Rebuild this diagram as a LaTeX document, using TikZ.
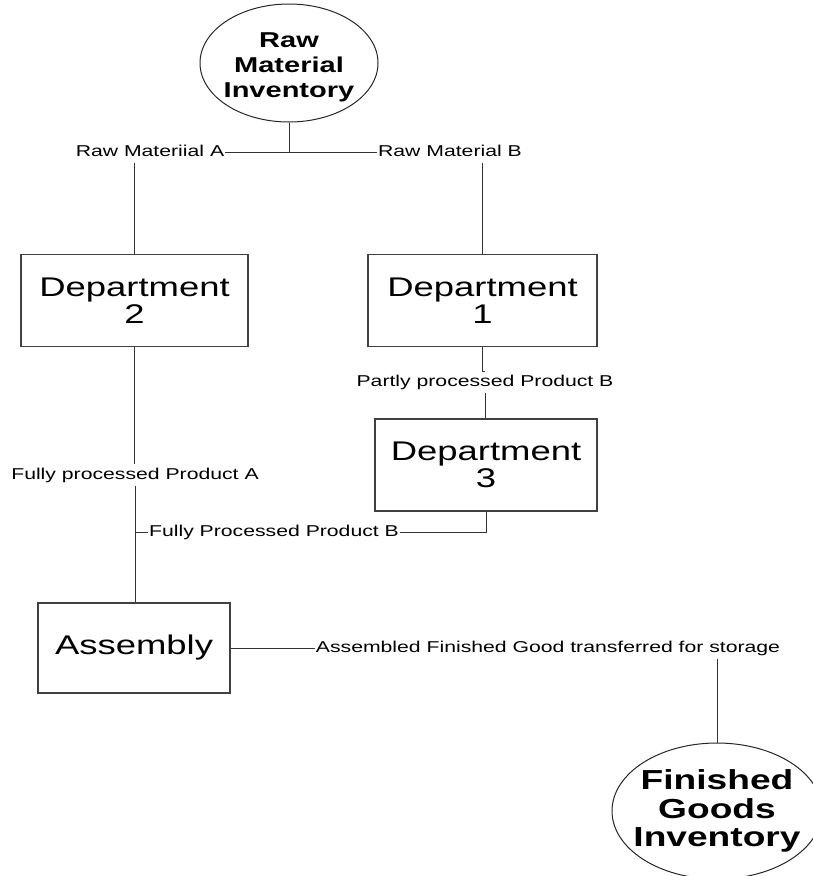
\documentclass[tikz,border=0pt]{standalone}
\usepackage{fontspec}
\setmainfont[FakeStretch=1.35]{Liberation Sans}
\usetikzlibrary{shapes.geometric}
\tikzset{>=stealth,
  dept/.style={draw=black!75, line width=1.2pt, minimum width=#1, minimum height=92pt,
    inner sep=0pt, align=center, font=\fontsize{27}{27}\selectfont},
  dept/.default=228pt,
  inv/.style={ellipse, draw=black!85, line width=1pt, inner sep=0pt},
  invtext/.style={align=center, font=\bfseries\fontsize{21.5}{25}\selectfont},
  bigtext/.style={align=center, font=\bfseries\fontsize{27.5}{28.5}\selectfont},
  flow/.style={inner xsep=1pt, inner ysep=3pt, text height=11.5pt, text depth=3.5pt,
    font=\fontsize{15.7}{18}\selectfont},
  link/.style={draw=black!80, line width=1pt}}

\begin{document}
\begin{tikzpicture}[x=1pt, y=-1pt]
    \useasboundingbox (0,0) rectangle (813,876);
    \node[inv, minimum width=178pt, minimum height=118pt] (rawinv) at (289,63) {};
    \node[invtext] (rawtxt) at (289,67) {Raw\\Material\\Inventory};
    \coordinate (split) at (289,152);
    \node[flow] (rawA) at (150,152) {Raw Materiial A};
    \node[flow] (rawB) at (450,152) {Raw Material B};
    \node[dept=227pt] (dept2) at (134.5,300.5) {Department\\2};
    \node[dept=229pt] (dept1) at (482.5,300.5) {Department\\1};
    \node[flow] (partB) at (485,382) {Partly processed Product B};
    \node[dept=222pt] (dept3) at (486,465) {Department\\3};
    \node[flow] (fullA) at (135,475) {Fully processed Product A};
    \node[flow] (fullB) at (274,532) {Fully Processed Product B};
    \node[dept=192pt, minimum height=90pt] (assembly) at (134,648) {Assembly};
    \node[flow] (stored) at (548,648) {Assembled Finished Good transferred for storage};
    \node[inv, minimum width=210pt, minimum height=136pt] (fgi) at (717,811) {};
    \node[bigtext] (fgitxt) at (717,811) {Finished\\Goods\\Inventory};
    \draw[link] (rawinv.south) -- (split);
    \draw[link] (rawA.east) -- (rawB.west);
    \draw[link] (rawA.south -| dept2.north) -- (dept2.north);
    \draw[link] (rawB.south -| dept1.north) -- (dept1.north);
    \draw[link] (dept1.south) |- (partB.north);
    \draw[link] (partB.south) -- (partB.south |- dept3.north);
    \draw[link] (dept2.south) -- (dept2.south |- fullA.north);
    \draw[link] (fullA.south) -- (fullA.south |- assembly.north);
    \draw[link] (dept3.south) |- (fullB.east);
    \draw[link] (fullB.west) -- (fullB.west -| fullA.south);
    \draw[link] (assembly.east) -- (stored.west);
    \draw[link] (stored.south -| fgi.north) -- (fgi.north);
\end{tikzpicture}
\end{document}
